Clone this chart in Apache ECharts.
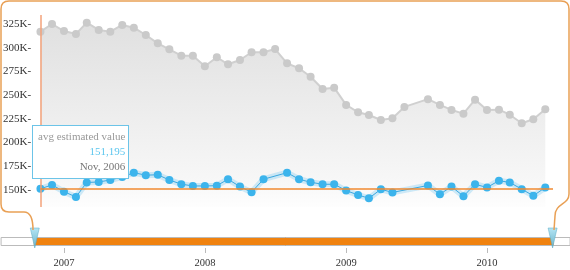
<!DOCTYPE html>
<html><head><meta charset="utf-8">
<script src="https://cdn.jsdelivr.net/npm/echarts@6/dist/echarts.min.js"></script>
<style>html,body{margin:0;padding:0;background:#fff}#c{width:570px;height:270px}</style>
</head><body><div id="c"></div>
<script>
const months = ['2006-11-01','2006-12-01',
  '2007-01-01','2007-02-01','2007-03-01','2007-04-01','2007-05-01','2007-06-01','2007-07-01','2007-08-01','2007-09-01','2007-10-01','2007-11-01','2007-12-01',
  '2008-01-01','2008-02-01','2008-03-01','2008-04-01','2008-05-01','2008-06-01','2008-07-01','2008-08-01','2008-09-01','2008-10-01','2008-11-01','2008-12-01',
  '2009-01-01','2009-02-01','2009-03-01','2009-04-01','2009-05-01','2009-06-01','2009-07-01','2009-08-01','2009-09-01','2009-10-01','2009-11-01','2009-12-01',
  '2010-01-01','2010-02-01','2010-03-01','2010-04-01','2010-05-01','2010-06-01'];
const avgListPrice = [317000,325100,317700,314600,326500,318800,317000,324100,321200,313500,304700,298400,291700,291700,
  280500,290000,282600,287100,295300,295300,298700,283600,278400,269500,256500,257900,
  239700,232000,229100,223800,225600,237600,null,245800,239700,234400,230500,245300,
  234400,234700,229400,220400,224600,235100];
const avgEstimatedValue = [151195,155300,148200,142600,157900,158400,160500,163700,168200,165600,166000,160500,156100,154200,
  154200,154500,161300,153500,147600,161300,null,168200,161300,158100,156000,156000,
  149300,144700,141200,150700,147400,null,null,154700,145500,153500,143400,156000,
  152600,159800,157900,150800,143900,152600];
const yTickValues = [150000,175000,200000,225000,250000,275000,300000,325000];
const yearTicks = ['2007-01-01','2008-01-01','2009-01-01','2010-01-01'];
const timelineRange = ['2006-07-19','2010-08-04'];
const zoomWindow = ['2006-10-13','2010-06-21'];
const valueRange = [132000, 334600];
const monthNames = ['Jan','Feb','Mar','Apr','May','Jun','Jul','Aug','Sep','Oct','Nov','Dec'];
const focusIndex = 0;

const T = s => echarts.time.parse(s);
const grayData = months.map((m,i)=>[T(m), avgListPrice[i]]);
const blueData = months.map((m,i)=>[T(m), avgEstimatedValue[i]]);
const serif = "'Liberation Serif', 'DejaVu Serif', serif";

const frameStyle = {fill:null, stroke:'#e9a055', lineWidth:1.5};
const seg = (type, shape) => ({type, shape, style:frameStyle, silent:true, z:100});
const frame = [
  seg('bezierCurve',{x1:33,y1:230,cpx1:33,cpy1:219,cpx2:31,cpy2:212,x2:24,y2:212}),
  seg('line',{x1:24,y1:212,x2:9,y2:212}),
  seg('bezierCurve',{x1:9,y1:212,cpx1:1,cpy1:212,x2:1,y2:204}),
  seg('line',{x1:1,y1:204,x2:1,y2:9}),
  seg('bezierCurve',{x1:1,y1:9,cpx1:1,cpy1:1,x2:9,y2:1}),
  seg('line',{x1:9,y1:1,x2:561,y2:1}),
  seg('bezierCurve',{x1:561,y1:1,cpx1:569,cpy1:1,x2:569,y2:9}),
  seg('line',{x1:569,y1:9,x2:569,y2:194}),
  seg('bezierCurve',{x1:569,y1:194,cpx1:569,cpy1:205,cpx2:555,cpy2:203,x2:555,y2:216}),
  seg('line',{x1:555,y1:216,x2:554,y2:230})
];

const chart = echarts.init(document.getElementById('c'), null, {renderer:'canvas'});
chart.setOption({
  animation:false,
  backgroundColor:'#fff',
  axisPointer:{show:false},
  grid:[
    {left:33, right:17, top:15, bottom:63},
    {left:0, right:0, top:236, height:12}
  ],
  xAxis:[
    {type:'time', gridIndex:0, min:T(timelineRange[0]), max:T(timelineRange[1]),
      axisLine:{show:false}, axisTick:{show:false}, axisLabel:{show:false}, splitLine:{show:false},
      axisPointer:{show:false}},
    {type:'time', gridIndex:1, min:T(timelineRange[0]), max:T(timelineRange[1]),
      axisLine:{show:false}, axisPointer:{show:false},
      axisTick:{show:true, length:5, lineStyle:{color:'#bbb'}, customValues: yearTicks.map(T)},
      axisLabel:{show:true, customValues: yearTicks.map(T), formatter:'{yyyy}', margin:10,
        fontFamily:serif, fontSize:10.5, color:'#333', showMinLabel:false, showMaxLabel:false},
      splitLine:{show:false}}
  ],
  yAxis:[
    {type:'value', gridIndex:0, min:valueRange[0], max:valueRange[1],
      axisLine:{show:false}, axisTick:{show:false}, splitLine:{show:false}, axisPointer:{show:false},
      axisLabel:{customValues:yTickValues, formatter:v=>(v/1000)+'K-', margin:2,
        fontFamily:serif, fontSize:11, color:'#333'}},
    {type:'value', gridIndex:1, show:false}
  ],
  dataZoom:[{
    type:'slider', xAxisIndex:0, filterMode:'none',
    left:0, right:0, top:237, height:9,
    startValue:T(zoomWindow[0]), endValue:T(zoomWindow[1]),
    showDetail:false, showDataShadow:false, brushSelect:false, borderRadius:0,
    backgroundColor:'#fff', borderColor:'#bbb',
    fillerColor:'#f0820f',
    handleIcon:'path://M4.5,0 L4.5,0 M0,27 L9,27 L4.5,7 Z',
    handleSize:27,
    handleStyle:{color:new echarts.graphic.LinearGradient(0,0,0,1,[{offset:0,color:'#4f9fb8'},{offset:1,color:'#b5e6f5'}]), borderColor:'#5aaac4', borderWidth:0.5},
    moveHandleSize:0, moveHandleStyle:{opacity:0},
    dataBackground:{lineStyle:{opacity:0}, areaStyle:{opacity:0}},
    selectedDataBackground:{lineStyle:{opacity:0}, areaStyle:{opacity:0}}
  }],
  tooltip:{
    trigger:'item', alwaysShowContent:true, transitionDuration:0,
    axisPointer:{type:'none'},
    position:[32,125],
    backgroundColor:'#fff', borderColor:'#6cc4e8', borderWidth:1, padding:[3,3,4,5],
    extraCssText:'box-shadow:none;border-radius:0;',
    formatter:p=>{
      const d = months[p.dataIndex].split('-');
      return `<div style="font-family:${serif};font-size:11px;line-height:15px">`+
        `<div style="color:#999">${p.seriesName}</div>`+
        `<div style="color:#5cc6ee;text-align:right">${p.value[1].toLocaleString('en-US')}</div>`+
        `<div style="color:#777;text-align:right">${monthNames[+d[1]-1]}, ${d[0]}</div></div>`;
    }
  },
  graphic:frame,
  series:[
    {name:'avg list price', type:'line', data:grayData, connectNulls:true,
      symbol:'circle', symbolSize:8, itemStyle:{color:'#cacaca'},
      lineStyle:{color:'#d0d0d0', width:2},
      areaStyle:{color:new echarts.graphic.LinearGradient(0,0,0,1,[{offset:0,color:'#d3d3d3'},{offset:0.85,color:'#f3f3f3'},{offset:1,color:'#fdfdfd'}])},
      emphasis:{disabled:true}, tooltip:{show:false},
      markLine:{silent:true, symbol:['none','none'], label:{show:false},
        emphasis:{disabled:true},
        data:[
          {xAxis:T(months[focusIndex]), lineStyle:{color:'#f3a27a', width:1.5, type:'solid'}},
          [{coord:[T(months[focusIndex]), avgEstimatedValue[focusIndex]], lineStyle:{color:'#f08a30', width:1.5, type:'solid'}},
           {coord:[T(zoomWindow[1]), avgEstimatedValue[focusIndex]]}]
        ]}
    },
    {name:'band', type:'line', data:blueData, connectNulls:true, symbol:'none',
      lineStyle:{color:'rgba(120,200,240,0.35)', width:6}, emphasis:{disabled:true}, tooltip:{show:false}, silent:true},
    {name:'avg estimated value', type:'line', data:blueData, connectNulls:true,
      symbol:'circle', symbolSize:8, itemStyle:{color:'#3cb4ec'},
      lineStyle:{color:'#3aa8e0', width:1}, emphasis:{disabled:true}}
  ]
});
chart.dispatchAction({type:'showTip', seriesIndex:2, dataIndex:focusIndex});
</script></body></html>
